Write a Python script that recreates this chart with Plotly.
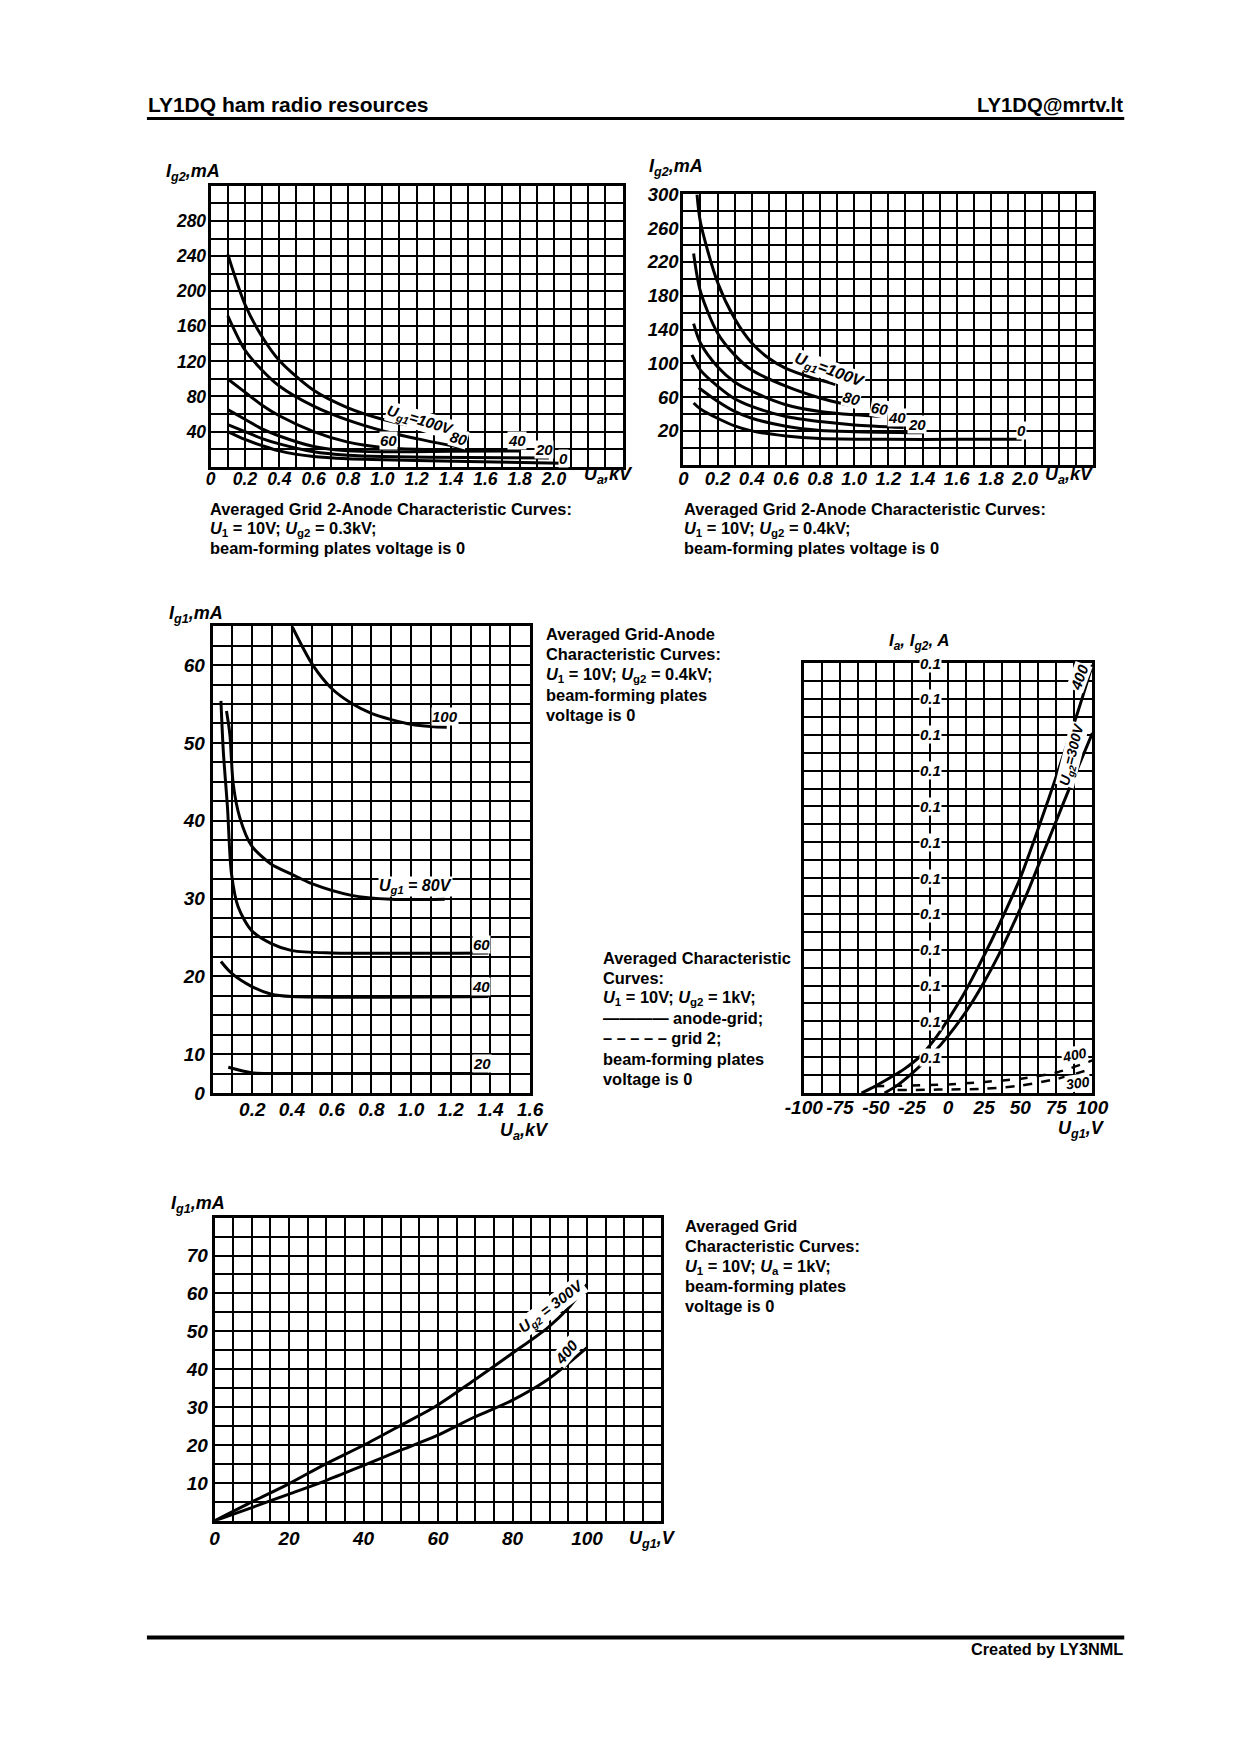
import plotly.graph_objects as go

# Page: 1240x1755 window, default 8px body margin; figure fits inside it.
OFF = 8
FW, FH = 1222, 1737
# Measured mapping from page CSS px to the photographed picture (compensated below)
SX, BX = 0.976, 16.7
SY, BY = 0.99, 8.2

# ---------------- DATA ----------------
# Chart 1: Ig2 vs Ua, Ug2 = 0.3 kV (curves by Ug1)
A_UA_100 = [0.1, 0.2, 0.3, 0.4, 0.6, 0.8, 1.0, 1.2, 1.34]
A_IG2_100 = [242, 185, 148, 121, 87, 67, 54, 45, 39]
A_UA_80 = [0.1, 0.2, 0.3, 0.4, 0.6, 0.8, 1.0, 1.2, 1.4, 1.48]
A_IG2_80 = [172, 133, 110, 92, 69, 53, 41, 32, 24, 21]
A_UA_60 = [0.1, 0.2, 0.3, 0.4, 0.6, 0.8, 1.0, 1.2, 1.5]
A_IG2_60 = [100, 85, 70, 58, 40, 28, 22, 20, 19.5]
A_UA_40 = [0.1, 0.2, 0.3, 0.4, 0.6, 0.8, 1.0, 1.4, 1.8]
A_IG2_40 = [65, 54, 43, 35, 23, 18, 17, 17.5, 18]
A_UA_20 = [0.1, 0.2, 0.3, 0.4, 0.6, 0.8, 1.0, 1.5, 1.97]
A_IG2_20 = [48, 40, 32, 26, 17, 13, 11.5, 10.5, 10]
A_UA_0 = [0.1, 0.2, 0.3, 0.4, 0.6, 0.8, 1.0, 1.5, 2.05]
A_IG2_0 = [40, 31, 24, 18, 11.5, 9, 8, 6, 4]

# Chart 2: Ig2 vs Ua, Ug2 = 0.4 kV
B_UA_100 = [0.08, 0.1, 0.2, 0.3, 0.4, 0.5, 0.6, 0.75, 0.89]
B_IG2_100 = [300, 267, 196, 153, 124, 106, 94, 83, 75]
B_UA_80 = [0.06, 0.1, 0.2, 0.3, 0.4, 0.6, 0.8, 1.0]
B_IG2_80 = [230, 185, 136, 110, 92, 73, 59, 49]
B_UA_60 = [0.06, 0.1, 0.2, 0.3, 0.4, 0.6, 0.8, 1.0, 1.17]
B_IG2_60 = [147, 124, 96, 78, 67, 51, 43, 39, 37]
B_UA_40 = [0.05, 0.1, 0.2, 0.3, 0.4, 0.6, 0.8, 1.0, 1.29]
B_IG2_40 = [110, 92, 73, 58, 49, 37, 31, 27, 24]
B_UA_20 = [0.09, 0.2, 0.3, 0.4, 0.6, 0.8, 1.0, 1.4]
B_IG2_20 = [71, 55, 43, 35, 25.5, 20.5, 19, 17.7]
B_UA_0 = [0.06, 0.1, 0.2, 0.3, 0.4, 0.6, 0.8, 1.2, 1.6, 1.98]
B_IG2_0 = [53, 46, 35, 26, 20, 14, 11, 10, 10, 10]

# Chart 3: Ig1 vs Ua, Ug2 = 0.4 kV
C_UA_100 = [0.4, 0.505, 0.6, 0.7, 0.8, 0.9, 1.0, 1.1, 1.18]
C_IG1_100 = [65, 60, 57, 55.1, 53.8, 53, 52.4, 52.1, 52]
C_UA_80 = [0.07, 0.087, 0.104, 0.137, 0.196, 0.296, 0.4, 0.5, 0.7, 0.9, 1.17]
C_IG1_80 = [54.1, 51.1, 44.7, 40.4, 36.8, 34.4, 33.1, 31.9, 30.4, 29.9, 29.9]
C_UA_60 = [0.042, 0.054, 0.075, 0.095, 0.129, 0.196, 0.296, 0.4, 0.6, 1.39]
C_IG1_60 = [55.4, 48.9, 41.7, 33.2, 28.9, 25.9, 24.2, 23.3, 23, 23]
C_UA_40 = [0.042, 0.095, 0.196, 0.296, 0.4, 1.39]
C_IG1_40 = [21.9, 20.4, 18.7, 17.7, 17.4, 17.4]
C_UA_20 = [0.079, 0.196, 0.3, 0.4, 1.39]
C_IG1_20 = [8.3, 7.6, 7.5, 7.5, 7.5]

# Chart 4: Ia (solid) and Ig2 (dashed) vs Ug1, in A
D_UG1_400 = [-60, -50, -40, -30, -20, -10, 0, 10, 20, 30, 40, 50, 60, 70, 80, 90, 100]
D_IA_400 = [0, 0.02, 0.043, 0.068, 0.1, 0.146, 0.205, 0.27, 0.345, 0.425, 0.51, 0.6,
            0.71, 0.825, 0.945, 1.065, 1.195]
D_UG1_300 = [-44, -35, -25, -15, -5, 5, 15, 25, 35, 45, 55, 65, 75, 85, 100]
D_IA_300 = [0, 0.022, 0.055, 0.092, 0.135, 0.185, 0.243, 0.31, 0.385, 0.47, 0.56,
            0.66, 0.76, 0.86, 1.005]
D_UG1_G2_400 = [-50.6, 0, 25.3, 50.6, 75.9, 100]
D_IG2_400 = [0.019, 0.024, 0.031, 0.04, 0.058, 0.091]
D_UG1_G2_300 = [-35, -6.9, 25.3, 50.6, 75.9, 100]
D_IG2_300 = [0.008, 0.0094, 0.012, 0.021, 0.04, 0.068]
D_YLABELS = [0.1, 0.2, 0.3, 0.4, 0.5, 0.6, 0.7, 0.8, 0.9, 1.0, 1.1, 1.2]

# Chart 5: Ig1 vs Ug1, Ua = 1 kV
E_UG1 = [0, 10, 19.8, 29.6, 39.7, 49.6, 59.5, 69.4, 79.5, 89.5, 94.7, 100]
E_IG1_300 = [0, 5, 9.7, 14.9, 19.8, 25, 30.3, 36.9, 43.9, 51, 55.8, 62.4]
E_IG1_400 = [0, 3.5, 7, 10.5, 14.5, 18.5, 22.4, 27.2, 31.6, 37.3, 41.3, 45.7]

# Tick labels
A_XTICKS = [0, 0.2, 0.4, 0.6, 0.8, 1.0, 1.2, 1.4, 1.6, 1.8, 2.0]
A_YTICKS = [40, 80, 120, 160, 200, 240, 280]
B_YTICKS = [20, 60, 100, 140, 180, 220, 260, 300]
C_XTICKS = [0.2, 0.4, 0.6, 0.8, 1.0, 1.2, 1.4, 1.6]
C_YTICKS = [5, 10, 20, 30, 40, 50, 60]
C_YTEXT = ["0", "10", "20", "30", "40", "50", "60"]
D_XTICKS = [-100, -75, -50, -25, 0, 25, 50, 75, 100]
E_XTICKS = [0, 20, 40, 60, 80, 100]
E_YTICKS = [10, 20, 30, 40, 50, 60, 70]

# Caption texts
CAP1 = ["Averaged Grid 2-Anode Characteristic Curves:",
        "<i>U</i><sub>1</sub> = 10V; <i>U</i><sub>g2</sub> = 0.3kV;",
        "beam-forming plates voltage is 0"]
CAP2 = ["Averaged Grid 2-Anode Characteristic Curves:",
        "<i>U</i><sub>1</sub> = 10V; <i>U</i><sub>g2</sub> = 0.4kV;",
        "beam-forming plates voltage is 0"]
CAP3 = ["Averaged Grid-Anode", "Characteristic Curves:",
        "<i>U</i><sub>1</sub> = 10V; <i>U</i><sub>g2</sub> = 0.4kV;",
        "beam-forming plates", "voltage is 0"]
CAP4 = ["Averaged Characteristic", "Curves:",
        "<i>U</i><sub>1</sub> = 10V; <i>U</i><sub>g2</sub> = 1kV;",
        "———— anode-grid;", "– – – – – grid 2;",
        "beam-forming plates", "voltage is 0"]
CAP5 = ["Averaged Grid", "Characteristic Curves:",
        "<i>U</i><sub>1</sub> = 10V; <i>U</i><sub>a</sub> = 1kV;",
        "beam-forming plates", "voltage is 0"]


def PX(t):
    return ((t - BX) / SX - OFF) / FW


def PY(t):
    return 1 - ((t - BY) / SY - OFF) / FH


# ---------------- FIGURE ----------------
FONT = "Liberation Sans, Arial, sans-serif"
fig = go.Figure()
layout = dict(width=FW, height=FH, margin=dict(l=0, r=0, t=0, b=0),
              paper_bgcolor="white", plot_bgcolor="white", showlegend=False)


def tfont(size=17):
    return dict(family=FONT, size=size, color="black", weight="bold", style="italic")


def panel(n, box, xr, yr, xminor, yminor, xt, xtt, yt, ytt, xmin0=None, ymin0=None,
          xstand=0, ystand=0, fsize=17):
    l, t, r, b = box
    xs = "" if n == 1 else str(n)
    common = dict(showline=True, linecolor="black", linewidth=3, mirror=True,
                  showgrid=True, gridcolor="black", gridwidth=2, zeroline=False,
                  ticks="", ticklen=0, tickfont=tfont(fsize), fixedrange=True)
    layout["xaxis" + xs] = dict(domain=[PX(l), PX(r)], range=xr, anchor="y" + xs,
                                tickmode="array", tickvals=xt, ticktext=xtt,
                                ticklabelstandoff=xstand,
                                minor=dict(dtick=xminor, tick0=xmin0 if xmin0 is not None else xr[0],
                                           showgrid=True, gridcolor="black", gridwidth=2),
                                **common)
    layout["yaxis" + xs] = dict(domain=[PY(b), PY(t)], range=yr, anchor="x" + xs,
                                tickmode="array", tickvals=yt, ticktext=ytt,
                                ticklabelstandoff=ystand,
                                minor=dict(dtick=yminor, tick0=ymin0 if ymin0 is not None else yr[0],
                                           showgrid=True, gridcolor="black", gridwidth=2),
                                **common)
    return "x" + xs, "y" + xs


def curve(ax, xs, ys, dash="solid", width=3):
    fig.add_trace(go.Scatter(x=xs, y=ys, mode="lines", xaxis=ax[0], yaxis=ax[1],
                             line=dict(color="black", width=width, dash=dash,
                                       shape="spline", smoothing=0.8),
                             hoverinfo="skip"))


ann = []


def label(ax, x, y, text, angle=0, size=14, bg="white"):
    ann.append(dict(xref=ax[0], yref=ax[1], x=x, y=y, text=text, showarrow=False,
                    textangle=angle, font=tfont(size), bgcolor=bg, borderpad=0))


def ptext(px, py, text, size=16, xanchor="left", yanchor="middle", italic=False, align="left"):
    f = dict(family=FONT, size=size, color="black", weight="bold")
    if italic:
        f["style"] = "italic"
    ann.append(dict(xref="paper", yref="paper", x=PX(px), y=PY(py), text=text,
                    showarrow=False, xanchor=xanchor, yanchor=yanchor, align=align,
                    font=f, borderpad=0))


def caption(px, ys, lines, size=16.4):
    for yy, line in zip(ys, lines):
        ptext(px, yy, line, size=size)


# Panel 1
a1 = panel(1, (209, 183.5, 623, 465), [0, 2.4], [0, 320], 0.1, 20,
           A_XTICKS, ["0"] + [f"{v:.1f}" for v in A_XTICKS[1:]],
           A_YTICKS, [str(v) for v in A_YTICKS], xstand=-6, ystand=-2, fsize=17.5)
for xs, ys in [(A_UA_100, A_IG2_100), (A_UA_80, A_IG2_80), (A_UA_60, A_IG2_60),
               (A_UA_40, A_IG2_40), (A_UA_20, A_IG2_20), (A_UA_0, A_IG2_0)]:
    curve(a1, xs, ys)
label(a1, 1.22, 53, "<i>U</i><sub>g1</sub>=100V", angle=17, size=15)
label(a1, 1.445, 32, "80", angle=15, size=15)
label(a1, 1.034, 30, "60", size=15)
label(a1, 1.784, 30, "40", size=15)
label(a1, 1.944, 20, "20", size=15)
label(a1, 2.055, 9.4, "0", size=15)

# Panel 2
a2 = panel(2, (684, 192, 1096, 463), [0, 2.4], [-20, 300], 0.1, 20,
           A_XTICKS, ["0"] + [f"{v:.1f}" for v in A_XTICKS[1:]],
           B_YTICKS, [str(v) for v in B_YTICKS], xstand=-5, ystand=-2, fsize=18.5)
for xs, ys in [(B_UA_100, B_IG2_100), (B_UA_80, B_IG2_80), (B_UA_60, B_IG2_60),
               (B_UA_40, B_IG2_40), (B_UA_20, B_IG2_20), (B_UA_0, B_IG2_0)]:
    curve(a2, xs, ys)
label(a2, 0.855, 92, "<i>U</i><sub>g1</sub>=100V", angle=20, size=16)
label(a2, 0.986, 58.6, "80", angle=15, size=15)
label(a2, 1.146, 46, "60", angle=10, size=15)
label(a2, 1.25, 36, "40", size=15)
label(a2, 1.369, 27.2, "20", size=15)
label(a2, 1.977, 20.1, "0", size=15)

# Panel 3
a3 = panel(3, (211, 625, 530, 1093), [0, 1.6], [5, 65], 0.1, 2.5,
           C_XTICKS, [f"{v:.1f}" for v in C_XTICKS],
           C_YTICKS, C_YTEXT, xstand=-3, ystand=1, ymin0=5, fsize=19)
for xs, ys in [(C_UA_100, C_IG1_100), (C_UA_80, C_IG1_80), (C_UA_60, C_IG1_60),
               (C_UA_40, C_IG1_40), (C_UA_20, C_IG1_20)]:
    curve(a3, xs, ys)
label(a3, 1.17, 53.4, "100", size=15)
label(a3, 1.02, 31.5, "<i>U</i><sub>g1</sub> = 80V", size=16)
label(a3, 1.355, 24.1, "60", size=15)
label(a3, 1.355, 18.65, "40", size=15)
label(a3, 1.36, 8.8, "20", size=15)

# Panel 4
a4 = panel(4, (805, 662, 1095, 1093), [-100, 100], [0, 1.2], 12.5, 0.05,
           D_XTICKS, [str(v) for v in D_XTICKS], [], [], xstand=-5, xmin0=-100, ymin0=0,
           fsize=19)
curve(a4, D_UG1_400, D_IA_400)
curve(a4, D_UG1_300, D_IA_300)
curve(a4, D_UG1_G2_400, D_IG2_400, dash="dash", width=2.5)
curve(a4, D_UG1_G2_300, D_IG2_300, dash="dash", width=2.5)
for v in D_YLABELS:
    label(a4, -12.5, v, "0.1", size=15)
label(a4, 90.8, 1.16, "400", angle=-70, size=15)
label(a4, 86.2, 0.946, "<i>U</i><sub>g2</sub>=300V", angle=-76, size=14)
label(a4, 87.4, 0.106, "400", angle=-12, size=14)
label(a4, 89.7, 0.027, "300", angle=-8, size=14)

# Panel 5
a5 = panel(5, (213, 1218, 662, 1522), [0, 120], [0, 80], 5, 5,
           E_XTICKS, [str(v) for v in E_XTICKS],
           E_YTICKS, [str(v) for v in E_YTICKS], xstand=-2, ystand=0, fsize=19)
curve(a5, E_UG1, E_IG1_300)
curve(a5, E_UG1, E_IG1_400)
label(a5, 90.6, 56.5, "<i>U</i><sub>g2</sub> = 300V", angle=-37, size=15)
label(a5, 94.6, 44.6, "400", angle=-50, size=15)

# Axis titles
ptext(163, 170, "<i>I</i><sub>g2</sub><i>,mA</i>", size=18, italic=True)
ptext(648, 165, "<i>I</i><sub>g2</sub><i>,mA</i>", size=18, italic=True)
ptext(166, 613, "<i>I</i><sub>g1</sub><i>,mA</i>", size=18, italic=True)
ptext(921, 641, "<i>I</i><sub>a</sub><i>, I</i><sub>g2</sub><i>, A</i>", size=17,
      italic=True, xanchor="center")
ptext(168, 1205, "<i>I</i><sub>g1</sub><i>,mA</i>", size=18, italic=True)
ptext(609, 474, "<i>U</i><sub>a</sub><i>,kV</i>", size=18, italic=True, xanchor="center")
ptext(1072, 474, "<i>U</i><sub>a</sub><i>,kV</i>", size=18, italic=True, xanchor="center")
ptext(524, 1132, "<i>U</i><sub>a</sub><i>,kV</i>", size=18, italic=True, xanchor="center")
ptext(1084, 1130, "<i>U</i><sub>g1</sub><i>,V</i>", size=18, italic=True, xanchor="center")
ptext(653, 1541, "<i>U</i><sub>g1</sub><i>,V</i>", size=18, italic=True, xanchor="center")

# Captions (one annotation per line)
caption(207, [507, 527, 547], CAP1)
caption(684, [507, 527, 547], CAP2)
caption(545, [633, 653, 674, 694, 714], CAP3)
caption(602, [958, 978, 998, 1018, 1038, 1059, 1079], CAP4)
caption(685, [1226, 1246, 1267, 1287, 1307], CAP5)

# Header / footer
ptext(145, 102, "LY1DQ ham radio resources", size=21)
ptext(1127, 102, "LY1DQ@mrtv.lt", size=20.3, xanchor="right")
ptext(1127, 1651, "Created by LY3NML", size=16.3, xanchor="right")

layout["annotations"] = ann
layout["shapes"] = [
    dict(type="line", xref="paper", yref="paper", x0=PX(145), x1=PX(1127),
         y0=PY(116), y1=PY(116), line=dict(color="black", width=3)),
    dict(type="line", xref="paper", yref="paper", x0=PX(145), x1=PX(1127),
         y0=PY(1639), y1=PY(1639), line=dict(color="black", width=4)),
]
fig.update_layout(**layout)
fig.write_html("out.html")
